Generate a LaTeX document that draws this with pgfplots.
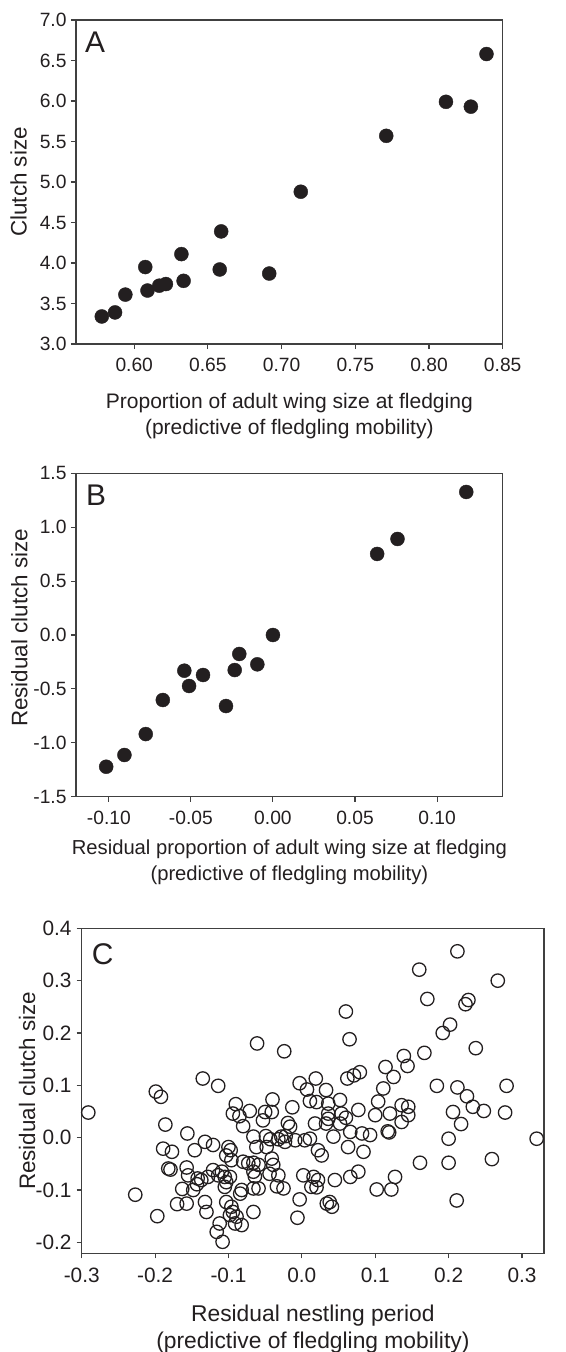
\documentclass[border=0pt]{standalone}
\usepackage{fontspec}
\setmainfont{Liberation Sans}
\usepackage{pgfplots}
\pgfplotsset{compat=1.18}

\definecolor{ink}{HTML}{231F20}
\definecolor{frame}{HTML}{404040}

\pgfplotsset{
  panel/.style={
    scale only axis, anchor=north west, clip=false,
    axis line style={draw=frame, line width=1.1bp},
    tick style={draw=frame, line width=1.1bp},
    tick align=outside, tick pos=left, major tick length=5bp,
    tick label style={font=\fontsize{19.3}{23}\selectfont, text=ink},
    xticklabel style={anchor=north, inner sep=0pt, yshift=-9bp},
    yticklabel style={anchor=east, inner sep=0pt, xshift=-4.3bp},
    label style={text=ink},
    xlabel style={align=center, inner sep=0pt, anchor=north, at={(axis description cs:0.5,0)}},
    ylabel style={inner sep=0pt, anchor=base, font=\fontsize{22.5}{26}\selectfont},
    /pgf/number format/assume math mode=true,
    /pgf/number format/fixed, /pgf/number format/fixed zerofill,
    scaled ticks=false,
  },
  filled/.style={only marks, mark=*, mark size=7bp, mark options={draw=ink, fill=ink}},
  hollow/.style={only marks, mark=o, mark size=6.7bp, mark options={draw=ink, line width=1.3bp}},
}
\tikzset{letter/.style={anchor=base west, inner sep=0pt, font=\fontsize{30}{36}\selectfont, text=ink}}

\begin{document}
\begin{tikzpicture}
\useasboundingbox (0,0) rectangle (566bp,-1352bp);

% A
\begin{axis}[panel, at={(76bp,-20bp)}, width=426.7bp, height=324bp,
  xmin=0.5605, xmax=0.85, ymin=3, ymax=7,
  xtick={0.60,0.65,0.70,0.75,0.80,0.85}, ytick={3,3.5,...,7},
  xticklabel style={/pgf/number format/precision=2},
  yticklabel style={/pgf/number format/precision=1},
  xlabel={Proportion of adult wing size at fledging\\(predictive of fledgling mobility)},
  xlabel style={yshift=-48.9bp, font=\fontsize{21.1}{26}\selectfont},
  ylabel={Clutch size},
  ylabel style={at={(axis description cs:-0.1155,0.5)}},
]
\addplot[filled] coordinates {
(0.578,3.34) (0.587,3.39) (0.594,3.61) (0.6075,3.95) (0.609,3.66)
(0.617,3.72) (0.6215,3.74) (0.632,4.11) (0.6335,3.78) (0.658,3.92)
(0.659,4.39) (0.6916,3.87) (0.713,4.88) (0.771,5.57) (0.8115,5.99)
(0.8284,5.93) (0.839,6.58)
};
\node[letter] at (rel axis cs:0.021,0.899) {A};
\end{axis}

% B
\begin{axis}[panel, at={(76bp,-473.3bp)}, width=426.7bp, height=323.4bp,
  xmin=-0.12, xmax=0.14, ymin=-1.5, ymax=1.5,
  xtick={-0.10,-0.05,0,0.05,0.10}, ytick={-1.5,-1,...,1.5},
  xticklabel style={/pgf/number format/precision=2},
  yticklabel style={/pgf/number format/precision=1},
  xlabel={Residual proportion of adult wing size at fledging\\(predictive of fledgling mobility)},
  xlabel style={yshift=-43.3bp, font=\fontsize{20.3}{25.7}\selectfont},
  ylabel={Residual clutch size},
  ylabel style={at={(axis description cs:-0.1141,0.522)}},
]
\addplot[filled] coordinates {
(-0.1016,-1.222) (-0.0905,-1.113) (-0.0775,-0.919) (-0.0671,-0.603)
(-0.054,-0.331) (-0.0511,-0.473) (-0.0426,-0.371) (-0.0286,-0.659)
(-0.0233,-0.325) (-0.0205,-0.176) (-0.0095,-0.272) (0.0,0.0)
(0.0635,0.752) (0.0759,0.891) (0.1178,1.327)
};
\node[letter] at (rel axis cs:0.023,0.902) {B};
\end{axis}

% C
\begin{axis}[panel, at={(81.7bp,-928.3bp)}, width=462.3bp, height=325bp,
  xmin=-0.3, xmax=0.33, ymin=-0.221, ymax=0.4,
  xtick={-0.3,-0.2,...,0.31}, ytick={-0.2,-0.1,...,0.41},
  tick label style={font=\fontsize{20.9}{24}\selectfont},
  yticklabel style={xshift=-0.7bp},
  xticklabel style={/pgf/number format/precision=1},
  yticklabel style={/pgf/number format/precision=1},
  xlabel={Residual nestling period\\(predictive of fledgling mobility)},
  xlabel style={yshift=-51.7bp, font=\fontsize{22.9}{26.6}\selectfont},
  ylabel={Residual clutch size},
  ylabel style={at={(axis description cs:-0.101,0.5)}},
]
\addplot[hollow] coordinates {
(-0.061,0.180) (-0.024,0.165) (0.212,0.356) (0.160,0.321) (0.267,0.300)
(0.171,0.265) (0.227,0.263) (0.223,0.255) (0.060,0.241) (0.202,0.216)
(0.192,0.200) (0.065,0.188) (0.237,0.171) (0.167,0.162) (0.139,0.156)
(0.144,0.137) (0.114,0.135) (0.062,0.113) (0.071,0.119) (0.079,0.125)
(-0.135,0.113) (0.019,0.113) (0.125,0.116)
(-0.199,0.088) (-0.192,0.078) (-0.291,0.048) (-0.186,0.025) (-0.156,0.008)
(-0.189,-0.021) (-0.177,-0.027) (-0.146,-0.024) (-0.182,-0.059) (-0.179,-0.061)
(-0.157,-0.057) (-0.155,-0.072) (-0.142,-0.078) (-0.143,-0.089) (-0.148,-0.100)
(-0.163,-0.098) (-0.227,-0.109) (-0.170,-0.127) (-0.157,-0.126) (-0.197,-0.150)
(-0.114,0.099) (-0.003,0.104) (0.007,0.092) (0.011,0.070) (0.020,0.068)
(-0.090,0.064) (-0.071,0.051) (-0.094,0.046) (-0.085,0.041) (-0.080,0.022)
(-0.040,0.073) (-0.050,0.049) (-0.041,0.049) (-0.053,0.033) (-0.013,0.058)
(-0.019,0.028) (-0.016,0.021) (0.018,0.027)
(-0.066,0.002) (-0.062,-0.018) (-0.049,0.003) (-0.043,-0.003) (-0.048,-0.018)
(-0.032,-0.003) (-0.028,0.002) (-0.022,0.003) (-0.023,-0.008) (-0.009,-0.005)
(0.004,-0.005) (0.011,-0.002) (0.022,-0.024) (-0.132,-0.008) (-0.121,-0.014)
(-0.100,-0.018) (-0.097,-0.024) (-0.103,-0.034) (-0.096,-0.043) (-0.080,-0.046)
(-0.073,-0.049) (-0.066,-0.048) (-0.059,-0.052) (-0.041,-0.040) (-0.039,-0.052)
(-0.044,-0.069) (-0.032,-0.072) (-0.025,-0.097) (-0.034,-0.093) (-0.064,-0.074)
(-0.066,-0.065) (-0.066,-0.097) (-0.059,-0.097) (-0.082,-0.100) (-0.084,-0.107)
(-0.121,-0.062) (-0.114,-0.072) (-0.109,-0.065) (-0.105,-0.075) (-0.098,-0.075)
(-0.128,-0.075) (-0.137,-0.081) (-0.103,-0.085) (-0.105,-0.094) (-0.132,-0.123)
(-0.130,-0.142) (-0.103,-0.123) (-0.096,-0.132) (-0.094,-0.142) (-0.098,-0.148)
(-0.089,-0.151) (-0.066,-0.142) (-0.091,-0.164) (-0.082,-0.167) (-0.112,-0.164)
(-0.116,-0.180) (-0.108,-0.199) (-0.003,-0.118) (-0.006,-0.153) (0.002,-0.072)
(0.016,-0.075) (0.022,-0.081) (0.013,-0.094) (0.020,-0.095)
(0.033,0.091) (0.036,0.065) (0.052,0.072) (0.036,0.046) (0.036,0.036)
(0.054,0.046) (0.060,0.038) (0.033,0.027) (0.052,0.027) (0.066,0.011)
(0.043,0.002) (0.027,-0.034) (0.063,-0.018) (0.084,-0.027) (0.077,0.053)
(0.104,0.069) (0.111,0.094) (0.100,0.043) (0.120,0.046) (0.136,0.062)
(0.145,0.059) (0.145,0.043) (0.136,0.030) (0.117,0.012) (0.119,0.010)
(0.082,0.008) (0.093,0.005) (0.161,-0.048) (0.077,-0.065) (0.066,-0.075)
(0.045,-0.081) (0.127,-0.075) (0.102,-0.099) (0.122,-0.099) (0.038,-0.123)
(0.034,-0.126) (0.041,-0.132)
(0.184,0.099) (0.212,0.096) (0.225,0.079) (0.233,0.059) (0.248,0.051)
(0.279,0.099) (0.277,0.048) (0.206,0.049) (0.217,0.026) (0.200,-0.002)
(0.320,-0.002) (0.200,-0.048) (0.259,-0.041) (0.211,-0.120)
};
\node[letter] at (rel axis cs:0.0216,0.890) {C};
\end{axis}
\end{tikzpicture}
\end{document}
